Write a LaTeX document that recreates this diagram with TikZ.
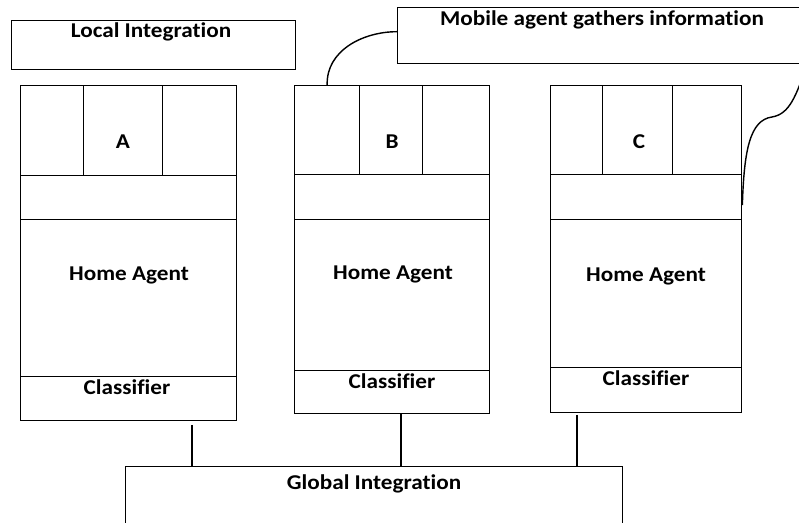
\documentclass[tikz,border=0pt]{standalone}
\usepackage{fontspec}
\setmainfont{Carlito}[FakeStretch=1.1, Ligatures=NoCommon]
\usetikzlibrary{positioning,calc}
\begin{document}
\begin{tikzpicture}[
  x=0.02cm, y=-0.02cm,
  font=\fontsize{12}{14}\selectfont\bfseries,
  cell/.style={draw, line width=0.8pt, anchor=north west, inner sep=0pt},
  lbl/.style={inner sep=1pt},
  wire/.style={line width=0.8pt}
]
\useasboundingbox (0,0) rectangle (799,523);
\clip (0,0) rectangle (799,523);
% text boxes
\node[cell, minimum width=5.68cm, minimum height=0.98cm] (local) at (11,20) {};
\node[cell, minimum width=8.26cm, minimum height=1.12cm] (mobile) at (397,7) {};
\node[cell, minimum width=9.94cm, minimum height=1.40cm] (glob) at (125,466) {};
\node[lbl] (localTxt) at (151,32) {Local Integration};
\node[lbl] (mobileTxt) at (602,20) {Mobile agent gathers information};
\node[lbl] (globTxt) at (374,484) {Global Integration};
% agent A
\node[cell, minimum width=1.26cm, minimum height=1.80cm] (aL) at (20,85) {};
\node[cell, minimum width=1.58cm, minimum height=1.80cm] (aM) at (83,85) {};
\node[cell, minimum width=1.48cm, minimum height=1.80cm] (aR) at (162,85) {};
\node[cell, minimum width=4.32cm, minimum height=0.88cm] (aMid) at (20,175) {};
\node[cell, minimum width=4.32cm, minimum height=3.14cm] (aHome) at (20,219) {};
\node[cell, minimum width=4.32cm, minimum height=0.88cm] (aCls) at (20,376) {};
\node[lbl] (aTxt) at (123,142) {A};
\node[lbl] (aHomeTxt) at (129,275) {Home Agent};
\node[lbl] (aClsTxt) at (127,387) {Classifier};
% agent B
\node[cell, minimum width=1.30cm, minimum height=1.78cm] (bL) at (294,85) {};
\node[cell, minimum width=1.26cm, minimum height=1.78cm] (bM) at (359,85) {};
\node[cell, minimum width=1.34cm, minimum height=1.78cm] (bR) at (422,85) {};
\node[cell, minimum width=3.90cm, minimum height=0.90cm] (bMid) at (294,174) {};
\node[cell, minimum width=3.90cm, minimum height=3.02cm] (bHome) at (294,219) {};
\node[cell, minimum width=3.90cm, minimum height=0.86cm] (bCls) at (294,370) {};
\node[lbl] (bTxt) at (392,142) {B};
\node[lbl] (bHomeTxt) at (393,274) {Home Agent};
\node[lbl] (bClsTxt) at (392,381) {Classifier};
% agent C
\node[cell, minimum width=1.04cm, minimum height=1.78cm] (cL) at (550,85) {};
\node[cell, minimum width=1.40cm, minimum height=1.78cm] (cM) at (602,85) {};
\node[cell, minimum width=1.38cm, minimum height=1.78cm] (cR) at (672,85) {};
\node[cell, minimum width=3.82cm, minimum height=0.90cm] (cMid) at (550,174) {};
\node[cell, minimum width=3.82cm, minimum height=2.96cm] (cHome) at (550,219) {};
\node[cell, minimum width=3.82cm, minimum height=0.90cm] (cCls) at (550,367) {};
\node[lbl] (cTxt) at (639,142) {C};
\node[lbl] (cHomeTxt) at (646,276) {Home Agent};
\node[lbl] (cClsTxt) at (646,378) {Classifier};
% links to global integration
\coordinate (jA) at (192,425);
\coordinate (jB) at (401,414);
\coordinate (jC) at (577,415);
\draw[wire] (jA) -- (jA |- glob.north);
\draw[wire] (jB) -- (jB |- glob.north);
\draw[wire] (jC) -- (jC |- glob.north);
% callout curves
\coordinate (mobTail) at (806,68);
\draw[wire] (bL.north) to[out=92, in=180] ($(mobile.west)+(0,-4)$);
\draw[wire] ($(cMid.east)+(0,8)$) .. controls (744,150) and (750,120) .. (772,117)
  .. controls (790,114) and (796,95) .. (mobTail);
\end{tikzpicture}
\end{document}
